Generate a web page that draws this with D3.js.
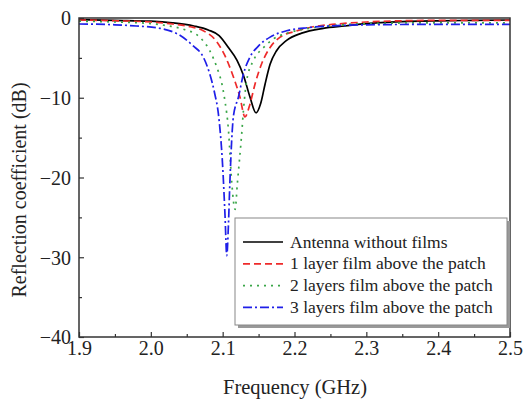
<!DOCTYPE html>
<html lang="en">
<head>
    <meta charset="UTF-8">
    <title>Reflection coefficient</title>
    <script src="https://cdn.jsdelivr.net/npm/d3@7/dist/d3.min.js"></script>
    <style>
        * { margin: 0; }
        body { background: #fff; }
        svg text { font-family: "Liberation Serif", "DejaVu Serif", serif !important; fill: #222; }
    </style>
</head>
<body>
    <div id="chart"></div>
    <script>
        // values: [frequency GHz, reflection dB]
        const antennaNoFilm = [
            [1.90, -0.2], [1.95, -0.3], [2.00, -0.4], [2.03, -0.6], [2.06, -1.0], [2.08, -1.5],
            [2.095, -2.2], [2.108, -3.7], [2.12, -5.3], [2.129, -7.2], [2.138, -9.9], [2.1465, -11.9],
            [2.153, -10.7], [2.159, -8.3], [2.166, -5.8], [2.175, -4.1], [2.189, -2.8], [2.21, -1.9],
            [2.24, -1.3], [2.27, -1.0], [2.30, -0.7], [2.35, -0.45], [2.40, -0.35], [2.45, -0.3], [2.50, -0.25]
        ];
        const oneLayer = [
            [1.90, -0.25], [1.95, -0.35], [2.00, -0.5], [2.03, -0.75], [2.055, -1.1], [2.073, -1.6],
            [2.092, -3.0], [2.103, -4.7], [2.115, -7.4], [2.124, -9.9], [2.131, -12.4], [2.138, -10.8],
            [2.145, -8.3], [2.154, -5.8], [2.166, -3.7], [2.18, -2.4], [2.20, -1.7], [2.226, -1.1],
            [2.26, -0.75], [2.30, -0.5], [2.35, -0.35], [2.40, -0.3], [2.50, -0.3]
        ];
        const twoLayers = [
            [1.90, -0.4], [1.95, -0.5], [2.00, -0.7], [2.025, -1.0], [2.045, -1.4], [2.068, -2.4],
            [2.082, -4.1], [2.092, -6.2], [2.099, -8.3], [2.103, -10.3], [2.108, -14], [2.1127, -20.7],
            [2.1173, -24], [2.1205, -20.7], [2.1266, -14.4], [2.129, -11.5], [2.1335, -7.8], [2.143, -5.3],
            [2.157, -3.7], [2.171, -2.6], [2.19, -1.9], [2.22, -1.3], [2.26, -0.9], [2.30, -0.7],
            [2.40, -0.6], [2.50, -0.6]
        ];
        const threeLayers = [
            [1.90, -0.75], [1.95, -0.85], [1.98, -1.0], [2.013, -1.3], [2.041, -2.2], [2.059, -3.5],
            [2.073, -4.9], [2.082, -7], [2.089, -9.5], [2.094, -12], [2.100, -18.6], [2.1033, -24.8],
            [2.1057, -29.8], [2.108, -26], [2.110, -20.7], [2.115, -12.3], [2.122, -9.9], [2.129, -7],
            [2.138, -4.9], [2.150, -3.5], [2.166, -2.4], [2.189, -1.6], [2.22, -1.2], [2.26, -0.95],
            [2.30, -0.85], [2.40, -0.8], [2.50, -0.8]
        ];
        const seriesNames = ['Antenna without films', '1 layer film above the patch',
            '2 layers film above the patch', '3 layers film above the patch'];
        const xTicks = [1.9, 2.0, 2.1, 2.2, 2.3, 2.4, 2.5];
        const yTicks = [0, -10, -20, -30, -40];

        const W = 524, H = 403;
        const margin = { left: 79, right: 14, top: 18, bottom: 66 };

        const svg = d3.select('#chart').append('svg')
            .attr('width', W).attr('height', H);

        const x = d3.scaleLinear().domain([1.9, 2.5]).range([margin.left, W - margin.right]);
        const y = d3.scaleLinear().domain([-40, 0]).range([H - margin.bottom, margin.top]);

        const styles = [
            { color: '#000', dash: null },
            { color: '#ee2a2a', dash: '7,4' },
            { color: '#3aa648', dash: '2,5' },
            { color: '#1f1fe8', dash: '9,3,2,3' }
        ];
        const data = [antennaNoFilm, oneLayer, twoLayers, threeLayers];

        // curves
        const line = d3.line()
            .x(d => x(d[0]))
            .y(d => y(d[1]))
            .curve(d3.curveMonotoneX);

        const plot = svg.append('g');
        data.forEach((s, i) => {
            plot.append('path')
                .datum(s)
                .attr('fill', 'none')
                .attr('stroke', styles[i].color)
                .attr('stroke-width', 1.7)
                .attr('stroke-dasharray', styles[i].dash)
                .attr('d', line);
        });

        // frame
        svg.append('rect')
            .attr('x', x(1.9)).attr('y', y(0))
            .attr('width', x(2.5) - x(1.9)).attr('height', y(-40) - y(0))
            .attr('fill', 'none').attr('stroke', '#333').attr('stroke-width', 1.5);

        // axes, ticks inward
        svg.append('g')
            .attr('transform', `translate(0,${y(-40)})`)
            .call(d3.axisBottom(x).tickValues(xTicks).tickFormat(d3.format('.1f')).tickSize(-5).tickPadding(4));
        svg.append('g')
            .attr('transform', `translate(0,${y(-40)})`)
            .call(d3.axisBottom(x).tickValues(d3.range(1.95, 2.5, 0.1)).tickFormat('').tickSize(-3));

        const yAxis = svg.append('g')
            .attr('transform', `translate(${x(1.9)},0)`)
            .call(d3.axisLeft(y).tickValues(yTicks).tickFormat(d3.format('d')).tickSize(-5).tickPadding(8));
        svg.append('g')
            .attr('transform', `translate(${x(1.9)},0)`)
            .call(d3.axisLeft(y).tickValues([-5, -15, -25, -35]).tickFormat('').tickSize(-3));

        svg.selectAll('.domain').remove();
        svg.selectAll('.tick line').attr('stroke', '#333').attr('stroke-width', 1.2);
        svg.selectAll('.tick text').attr('font-size', 20).attr('fill', '#222');
        yAxis.selectAll('.tick text').attr('dy', '0.34em');

        // axis titles
        svg.append('text')
            .attr('x', 295).attr('y', 394)
            .attr('text-anchor', 'middle')
            .attr('font-size', 20.5)
            .text('Frequency (GHz)');
        svg.append('text')
            .attr('transform', 'translate(26,190) rotate(-90)')
            .attr('text-anchor', 'middle')
            .attr('font-size', 20)
            .text('Reflection coefficient (dB)');

        // legend
        const lg = svg.append('g').attr('transform', 'translate(235,218)');
        lg.append('rect').attr('x', 3).attr('y', 3).attr('width', 272).attr('height', 107)
            .attr('fill', '#999');
        lg.append('rect').attr('x', 0).attr('y', 0).attr('width', 272).attr('height', 107)
            .attr('fill', '#fff').attr('stroke', '#888').attr('stroke-width', 1);
        seriesNames.forEach((name, i) => {
            const ly = 24 + i * 21.8;
            lg.append('line')
                .attr('x1', 8).attr('x2', 48).attr('y1', ly).attr('y2', ly)
                .attr('stroke', styles[i].color)
                .attr('stroke-width', 1.7)
                .attr('stroke-dasharray', styles[i].dash);
            lg.append('text')
                .attr('x', 55).attr('y', ly + 5.5)
                .attr('font-size', 17.5)
                .text(name);
        });
    </script>
</body>
</html>
